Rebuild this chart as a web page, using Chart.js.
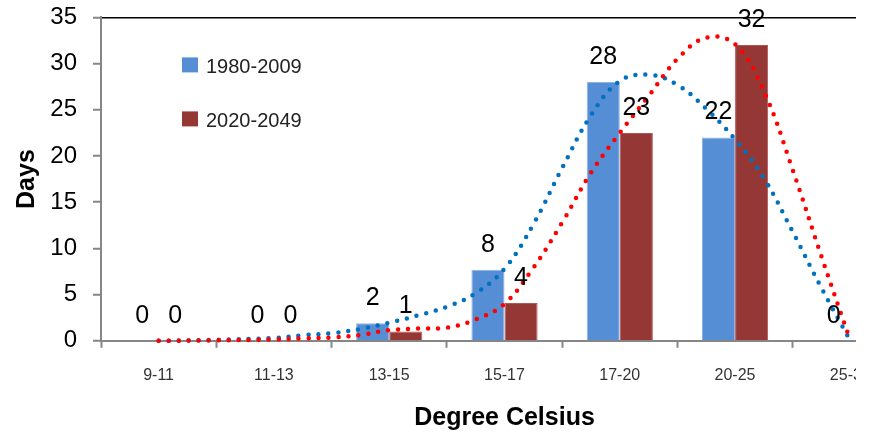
<!DOCTYPE html>
<html>
<head>
<meta charset="utf-8">
<title>Days per temperature class</title>
<script src="https://cdn.jsdelivr.net/npm/chart.js"></script>
<style>
  html, body { margin: 0; padding: 0; background: #fff; }
  /* the original picture is cut off after the last category */
  #crop { width: 856px; height: 435px; overflow: hidden; }
  #wrap { width: 910px; height: 435px; position: relative; }
</style>
</head>
<body>
<div id="crop"><div id="wrap"><canvas id="myChart"></canvas></div></div>
<script>
'use strict';

// Categories (temperature classes) and series names
var categories = ['9-11', '11-13', '13-15', '15-17', '17-20', '20-25', '25-30'];
var seriesNames = ['1980-2009', '2020-2049'];

// Days per class
var days1980 = [0, 0, 1.9, 7.7, 28, 22, 0];
var days2020 = [0, 0, 1, 4.1, 22.5, 32, 0];

// Y axis ticks
var yMin = 0;
var yMax = 35;
var yStep = 5;

// Dotted trend lines (x = category position)
var trendX    = [0, 0.5, 1, 1.25, 1.5, 1.75, 2, 2.25, 2.5, 2.75, 3, 3.25, 3.5, 3.75, 4, 4.25, 4.5, 4.75, 5, 5.25, 5.5, 5.75, 6];
var trend1980 = [0, 0.1, 0.3, 0.6, 0.82, 1.28, 1.95, 2.75, 3.68, 5.15, 7.8, 12.6, 18.7, 24.4, 28.1, 28.8, 27.7, 25.1, 21.8, 17.6, 11.8, 5.7, 0];
var trend2020 = [0, 0.05, 0.15, 0.26, 0.36, 0.63, 1.15, 1.32, 1.42, 2.3, 4.0, 7.9, 12.8, 18.2, 22.5, 26.5, 30.5, 32.8, 32.1, 27.0, 18.5, 9.1, 0];

var font = "'Liberation Sans', Arial, Helvetica, sans-serif";
var axisGrey = '#868686';
var barColors = ['#558ED5', '#953735'];
var barEdges = ['#8DB3E2', '#B35553'];
var trendColors = ['#0070C0', '#FF0000'];

// Bars and lines share one linear x axis: category i sits at x = i
function toPoints(xs, ys) {
  return xs.map(function (x, i) { return { x: x, y: ys[i] }; });
}
var catIndex = categories.map(function (c, i) { return i; });

// Numbers above each bar
var barLabels = {
  id: 'barLabels',
  afterDatasetsDraw: function (chart) {
    var ctx = chart.ctx;
    ctx.save();
    ctx.font = '25px ' + font;
    ctx.fillStyle = '#000';
    ctx.textAlign = 'center';
    ctx.textBaseline = 'middle';
    chart.data.datasets.forEach(function (ds, i) {
      if (ds.type !== 'bar') return;
      chart.getDatasetMeta(i).data.forEach(function (bar, j) {
        ctx.fillText(String(Math.round(ds.data[j].y)), bar.x, bar.y - 25);
      });
    });
    ctx.restore();
  }
};

// Legend inside the plot, top left
var innerLegend = {
  id: 'innerLegend',
  afterDraw: function (chart) {
    var ctx = chart.ctx;
    var left = chart.chartArea.left + 81;
    var top = chart.chartArea.top + 40;
    ctx.save();
    ctx.font = '20px ' + font;
    ctx.textBaseline = 'middle';
    seriesNames.forEach(function (name, i) {
      var y = top + i * 54;
      ctx.fillStyle = barColors[i];
      ctx.fillRect(left, y, 16, 15);
      ctx.fillStyle = '#222';
      ctx.fillText(name, left + 24, y + 10);
    });
    ctx.restore();
  }
};

var ctx = document.getElementById('myChart');
var chart = new Chart(ctx, {
  data: {
    datasets: [
      {
        type: 'bar', label: seriesNames[0], data: toPoints(catIndex, days1980),
        backgroundColor: barColors[0], borderColor: barEdges[0], borderWidth: 1,
        categoryPercentage: 0.574, barPercentage: 1, order: 2
      },
      {
        type: 'bar', label: seriesNames[1], data: toPoints(catIndex, days2020),
        backgroundColor: barColors[1], borderColor: barEdges[1], borderWidth: 1,
        categoryPercentage: 0.574, barPercentage: 1, order: 2
      },
      {
        type: 'line', label: 'trend ' + seriesNames[0],
        data: toPoints(trendX, trend1980),
        borderColor: trendColors[0], borderWidth: 4.5, borderDash: [0, 10], borderCapStyle: 'round',
        pointRadius: 0, fill: false, tension: 0.4, clip: false, order: 1
      },
      {
        type: 'line', label: 'trend ' + seriesNames[1],
        data: toPoints(trendX, trend2020),
        borderColor: trendColors[1], borderWidth: 4.5, borderDash: [0, 10], borderCapStyle: 'round',
        pointRadius: 0, fill: false, tension: 0.4, clip: false, order: 0
      }
    ]
  },
  options: {
    responsive: true,
    maintainAspectRatio: false,
    animation: false,
    layout: { padding: { top: 3, right: 2, bottom: 2, left: 0 } },
    plugins: { legend: { display: false }, tooltip: { enabled: false } },
    scales: {
      x: {
        type: 'linear',
        min: -0.5, max: categories.length - 0.5,
        offset: false,
        // the shifted names should not push the plot edges in
        afterFit: function (scale) { scale.paddingLeft = 0; scale.paddingRight = 0; },
        grid: { offset: false, drawOnChartArea: false, tickColor: axisGrey, tickWidth: 2, tickLength: 7 },
        border: { color: axisGrey, width: 2 },
        ticks: {
          stepSize: 1, autoSkip: false, maxRotation: 0,
          // ticks sit on the class boundaries, names are moved to the middle
          labelOffset: 57.6,
          callback: function (value, index) { return categories[index] || ''; },
          color: '#333', font: { family: font, size: 16 }, padding: 18
        },
        title: {
          display: true, text: 'Degree Celsius', color: '#000',
          font: { family: font, size: 25, weight: 'bold' }, padding: { top: 0, bottom: 0 }
        }
      },
      y: {
        min: yMin, max: yMax,
        // fixed axis width, and keep the tick padding from pushing the plot top down
        afterFit: function (scale) {
          scale.width = 101;
          scale.paddingTop = 17.4;
          scale.paddingBottom = 0;
        },
        ticks: { stepSize: yStep, color: '#000', font: { family: font, size: 24 }, padding: 16 },
        grid: {
          color: function (c) { return c.tick && c.tick.value === yMax ? '#000' : 'rgba(0,0,0,0)'; },
          lineWidth: 1.5,
          tickColor: axisGrey, tickWidth: 2, tickLength: 8
        },
        border: { color: axisGrey, width: 2 },
        title: {
          display: true, text: 'Days', color: '#000',
          font: { family: font, size: 25, weight: 'bold' }, padding: { top: 12, bottom: 0 }
        }
      }
    }
  },
  plugins: [barLabels, innerLegend]
});
</script>
</body>
</html>
